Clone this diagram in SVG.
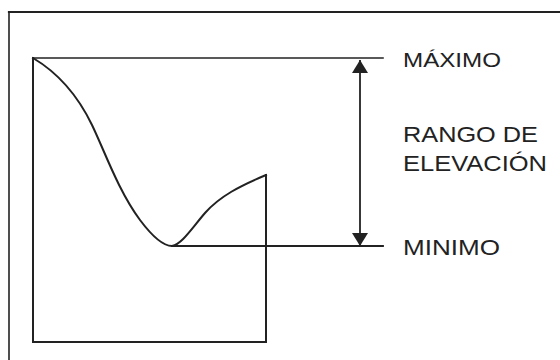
<svg xmlns="http://www.w3.org/2000/svg" width="560" height="360" viewBox="0 0 560 360">
  <defs>
    <style>
      .ln{stroke:#222;fill:none;stroke-linecap:square}
      .lbl{font-family:"Liberation Sans",Arial,sans-serif;fill:#222}
    </style>
    <marker id="ah" viewBox="0 0 13 16" refX="13" refY="8" markerWidth="13" markerHeight="16" markerUnits="userSpaceOnUse" orient="auto-start-reverse">
      <path d="M0,0 L13,8 L0,16 Z" fill="#222"/>
    </marker>
  </defs>
  <rect width="560" height="360" fill="#fff"/>
  <g id="frame">
    <line class="ln" x1="9" y1="12" x2="560" y2="12" stroke-width="2.2"/>
    <line class="ln" x1="9" y1="12" x2="9" y2="360" stroke-width="1.6"/>
  </g>
  <g id="profile">
    <polyline class="ln" points="266,175 266,342 33,342 33,58" stroke-width="2"/>
    <path class="ln" d="M33,58 C60,74 78,96 92,125 C105,152 118,190 140,220 C152,236 163,246 172,246 C182,244 192,228 205,213 C220,196 240,186 266,175" stroke-width="2"/>
  </g>
  <g id="connectors">
    <line class="ln" x1="33" y1="58" x2="383" y2="58" stroke-width="1.6"/>
    <line class="ln" x1="172" y1="246" x2="383" y2="246" stroke-width="1.8"/>
    <line x1="360" y1="60" x2="360" y2="246" stroke="#222" stroke-width="1.8" marker-start="url(#ah)" marker-end="url(#ah)"/>
  </g>
  <g id="label-max">
    <text class="lbl" x="403" y="67" font-size="19.5" textLength="98" lengthAdjust="spacingAndGlyphs">MÁXIMO</text>
  </g>
  <g id="label-range">
    <text class="lbl" x="403" y="142" font-size="21.5" textLength="135" lengthAdjust="spacingAndGlyphs">RANGO DE</text>
    <text class="lbl" x="403" y="171" font-size="21.5" textLength="144" lengthAdjust="spacingAndGlyphs">ELEVACIÓN</text>
  </g>
  <g id="label-min">
    <text class="lbl" x="403" y="255" font-size="22" textLength="97" lengthAdjust="spacingAndGlyphs">MINIMO</text>
  </g>
</svg>
